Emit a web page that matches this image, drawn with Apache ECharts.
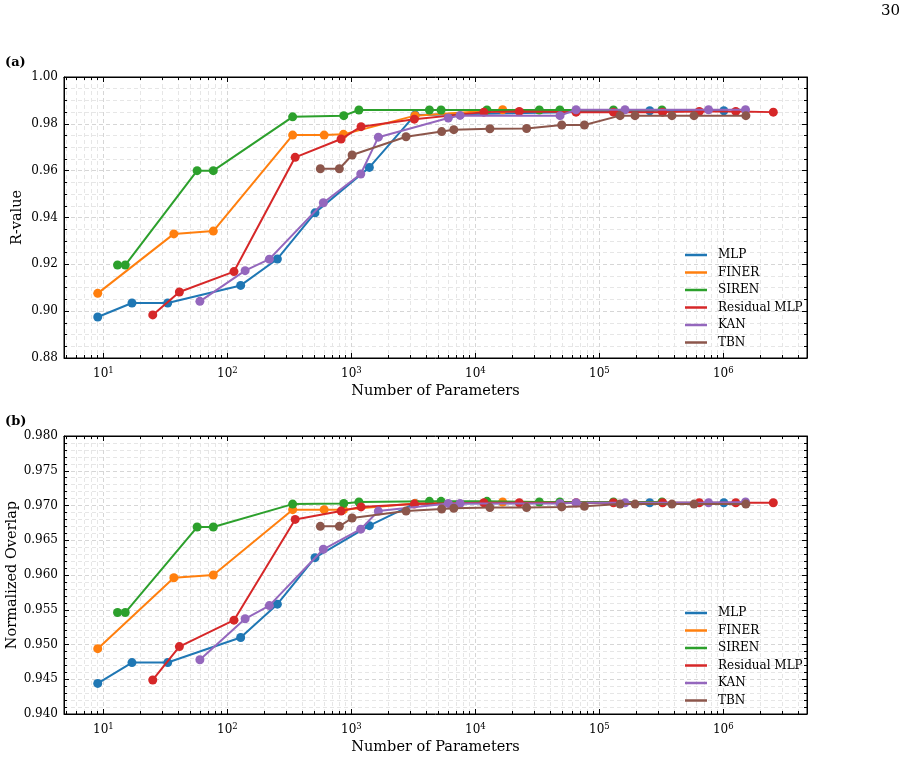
<!DOCTYPE html>
<html><head><meta charset="utf-8">
<script src="https://cdn.jsdelivr.net/npm/echarts@6/dist/echarts.min.js"></script>
<style>html,body{margin:0;padding:0;background:#fff}#c{width:920px;height:757px}</style>
</head><body><div id="c"></div>
<script>
const names = ['MLP', 'FINER', 'SIREN', 'Residual MLP', 'KAN', 'TBN'];
const colors = ['#1f77b4', '#ff7f0e', '#2ca02c', '#d62728', '#9467bd', '#8c564b'];

const xMLP = [9, 17, 33, 128, 253, 509, 1397, 3265, 255000, 1010000];
const rMLP = [0.8975, 0.9035, 0.9035, 0.911, 0.9223, 0.942, 0.9614, 0.9838, 0.9856, 0.9856];
const oMLP = [0.9444, 0.9474, 0.9474, 0.951, 0.9558, 0.9625, 0.9671, 0.9703, 0.9704, 0.9704];

const xFINER = [9, 37, 77, 336, 603, 863, 3260, 16600];
const rFINER = [0.9076, 0.933, 0.9342, 0.9752, 0.9752, 0.9755, 0.9835, 0.986];
const oFINER = [0.9494, 0.9596, 0.9600, 0.9694, 0.9694, 0.9694, 0.9703, 0.9705];

const xSIREN = [13, 15, 57, 77, 336, 868, 1150, 4260, 5290, 12400, 32800, 48000, 130000, 320000];
const rSIREN = [0.9197, 0.9197, 0.960, 0.960, 0.983, 0.9835, 0.9859, 0.9859, 0.9859, 0.9859, 0.9859, 0.9859, 0.9859, 0.9859];
const oSIREN = [0.9546, 0.9546, 0.9669, 0.9669, 0.9702, 0.9703, 0.9705, 0.9706, 0.9706, 0.9706, 0.9705, 0.9705, 0.9705, 0.9705];

const xRes = [25, 41, 113, 352, 826, 1197, 3220, 11700, 22600, 64900, 130000, 324000, 640000, 1260000, 2530000];
const rRes = [0.8984, 0.9082, 0.9169, 0.9657, 0.9735, 0.9788, 0.982, 0.985, 0.9853, 0.985, 0.985, 0.985, 0.9853, 0.9853, 0.985];
const oRes = [0.9449, 0.9497, 0.9535, 0.968, 0.9692, 0.9698, 0.9702, 0.9704, 0.9704, 0.9704, 0.9704, 0.9704, 0.9704, 0.9704, 0.9704];

const xKAN = [60, 139, 218, 594, 1190, 1650, 6050, 7530, 48200, 64900, 161000, 760000, 1510000];
const rKAN = [0.9042, 0.9173, 0.9222, 0.9463, 0.9586, 0.9743, 0.9825, 0.9836, 0.9835, 0.986, 0.986, 0.986, 0.986];
const oKAN = [0.9478, 0.9537, 0.9556, 0.9637, 0.9666, 0.9692, 0.9703, 0.9703, 0.9703, 0.9704, 0.9704, 0.9704, 0.9705];

const xTBN = [562, 800, 1014, 2760, 5350, 6700, 13100, 25900, 49700, 75800, 147000, 194000, 385000, 580000, 1520000];
const rTBN = [0.9608, 0.9608, 0.9667, 0.9745, 0.9767, 0.9775, 0.9779, 0.978, 0.9795, 0.9795, 0.9835, 0.9835, 0.9835, 0.9835, 0.9835];
const oTBN = [0.967, 0.967, 0.9682, 0.9692, 0.9695, 0.9696, 0.9697, 0.9697, 0.9698, 0.9699, 0.9702, 0.9702, 0.9702, 0.9702, 0.9702];

const yTicksA = { min: 0.88, max: 1.00, interval: 0.02, minorSplit: 4, digits: 2 };
const yTicksB = { min: 0.940, max: 0.980, interval: 0.005, minorSplit: 5, digits: 3 };
const xRange = { min: 4.81, max: 4.73e6 };

const xs = [xMLP, xFINER, xSIREN, xRes, xKAN, xTBN];
const rs = [rMLP, rFINER, rSIREN, rRes, rKAN, rTBN];
const os = [oMLP, oFINER, oSIREN, oRes, oKAN, oTBN];

const FONT = 'DejaVu Serif';
const chart = echarts.init(document.getElementById('c'));

const grids = [
  { left: 64, top: 77, width: 743, height: 281, show: true, borderColor: '#000', borderWidth: 1,
    backgroundColor: 'transparent', containLabel: false, outerBoundsMode: 'none' },
  { left: 64, top: 436, width: 743, height: 278, show: true, borderColor: '#000', borderWidth: 1,
    backgroundColor: 'transparent', containLabel: false, outerBoundsMode: 'none' }
];

function xAxisMain(gi) {
  return {
    type: 'log', gridIndex: gi, min: xRange.min, max: xRange.max, logBase: 10,
    name: 'Number of Parameters', nameLocation: 'middle', nameGap: 26,
    nameTextStyle: { fontFamily: FONT, fontSize: 14.5, color: '#000' },
    axisLine: { show: true, lineStyle: { color: '#000', width: 1 } },
    axisTick: { show: true, inside: true, length: 5, lineStyle: { color: '#000' } },
    minorTick: { show: true, splitNumber: 9, length: 3, lineStyle: { color: '#000' } },
    axisLabel: {
      margin: 8, showMinLabel: false, showMaxLabel: false,
      formatter: function (v) {
        const l = Math.log10(v); const n = Math.round(l);
        if (Math.abs(l - n) > 1e-6) return '';
        return '{b|10}{s|' + n + '}';
      },
      rich: {
        b: { fontFamily: FONT, fontSize: 12, color: '#000', lineHeight: 16 },
        s: { fontFamily: FONT, fontSize: 8.5, color: '#000', verticalAlign: 'top', lineHeight: 10 }
      }
    },
    splitLine: { show: true, lineStyle: { color: '#d6d6d6', type: [4, 3], width: 1 } },
    minorSplitLine: { show: true, lineStyle: { color: '#e6e6e6', type: [4, 3], width: 1 } }
  };
}
function xAxisTop(gi) {
  return {
    type: 'log', gridIndex: gi, min: xRange.min, max: xRange.max, logBase: 10, position: 'top',
    axisLine: { show: true, lineStyle: { color: '#000' } },
    axisTick: { show: true, inside: true, length: 5, lineStyle: { color: '#000' } },
    minorTick: { show: true, splitNumber: 9, length: 3, lineStyle: { color: '#000' } },
    axisLabel: { show: false }, splitLine: { show: false }
  };
}
function yAxisMain(gi, t, name, gap) {
  return {
    type: 'value', gridIndex: gi, min: t.min, max: t.max, interval: t.interval,
    name: name, nameLocation: 'middle', nameGap: gap, nameMoveOverlap: false,
    nameTextStyle: { fontFamily: FONT, fontSize: 14.5, color: '#000' },
    axisLine: { show: true, lineStyle: { color: '#000' } },
    axisTick: { show: true, inside: true, length: 5, lineStyle: { color: '#000' } },
    minorTick: { show: true, splitNumber: t.minorSplit, length: 3, lineStyle: { color: '#000' } },
    axisLabel: { fontFamily: FONT, fontSize: 12, color: '#000', margin: 6,
      formatter: v => v.toFixed(t.digits) },
    splitLine: { show: true, lineStyle: { color: '#d6d6d6', type: [4, 3], width: 1 } },
    minorSplitLine: { show: true, lineStyle: { color: '#e6e6e6', type: [4, 3], width: 1 } }
  };
}
function yAxisRight(gi, t) {
  return {
    type: 'value', gridIndex: gi, min: t.min, max: t.max, interval: t.interval, position: 'right',
    axisLine: { show: true, lineStyle: { color: '#000' } },
    axisTick: { show: true, inside: true, length: 5, lineStyle: { color: '#000' } },
    minorTick: { show: true, splitNumber: t.minorSplit, length: 3, lineStyle: { color: '#000' } },
    axisLabel: { show: false }, splitLine: { show: false }
  };
}

const series = [];
[rs, os].forEach(function (vals, gi) {
  names.forEach(function (nm, i) {
    series.push({
      name: nm, type: 'line', xAxisIndex: gi * 2, yAxisIndex: gi * 2,
      data: xs[i].map((x, k) => [x, vals[i][k]]),
      color: colors[i],
      symbol: 'circle', symbolSize: 9, showSymbol: true,
      lineStyle: { width: 2, color: colors[i] },
      itemStyle: { color: colors[i] },
      emphasis: { disabled: true }, animation: false, z: 3 + i
    });
  });
});

function legendAt(top) {
  return {
    data: names, orient: 'vertical', left: 680, top: top, icon: 'rect',
    itemWidth: 22, itemHeight: 2.5, itemGap: 5.5,
    textStyle: { fontFamily: FONT, fontSize: 12, color: '#000', lineHeight: 12, padding: [0, 0, 0, 6] },
    selectedMode: false
  };
}

chart.setOption({
  animation: false,
  backgroundColor: '#fff',
  grid: grids,
  xAxis: [xAxisMain(0), xAxisTop(0), xAxisMain(1), xAxisTop(1)],
  yAxis: [yAxisMain(0, yTicksA, 'R-value', 39), yAxisRight(0, yTicksA),
          yAxisMain(1, yTicksB, 'Normalized Overlap', 44), yAxisRight(1, yTicksB)],
  legend: [legendAt(244), legendAt(602)],
  series: series,
  graphic: [
    { type: 'text', right: 20, top: 4, style: { text: '30', fontFamily: FONT, fontSize: 15, fill: '#000' } },
    { type: 'text', left: 5, top: 56, style: { text: '(a)', fontFamily: FONT, fontSize: 13, fontWeight: 'bold', fill: '#000' } },
    { type: 'text', left: 5, top: 415, style: { text: '(b)', fontFamily: FONT, fontSize: 13, fontWeight: 'bold', fill: '#000' } }
  ]
});
</script></body></html>
